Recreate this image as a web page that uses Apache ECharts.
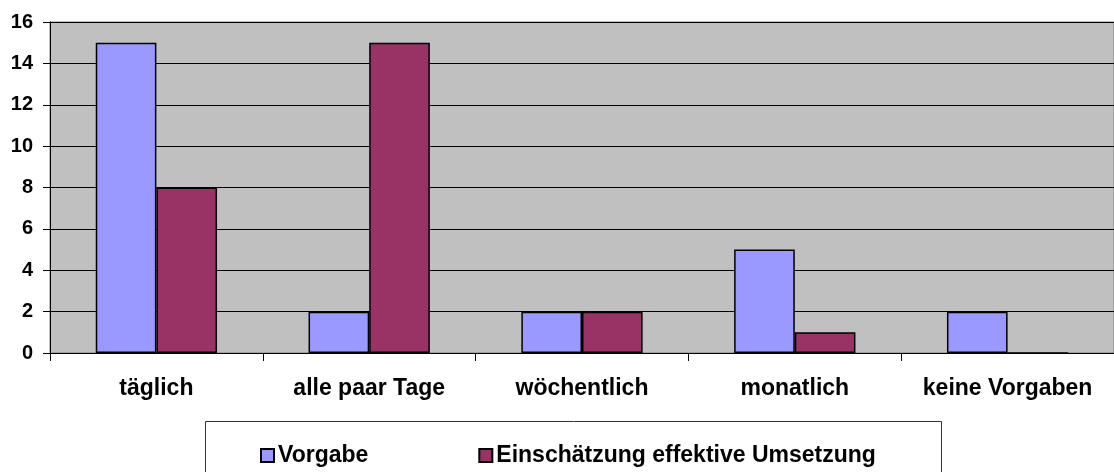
<!DOCTYPE html>
<html>
<head>
<meta charset="utf-8">
<script src="https://cdn.jsdelivr.net/npm/echarts@6/dist/echarts.min.js"></script>
<style>
  html, body { margin: 0; padding: 0; background: #fff; }
  #chart { width: 1114px; height: 472px; }
</style>
</head>
<body>
<div id="chart"></div>
<script>
const categories = ['täglich', 'alle paar Tage', 'wöchentlich', 'monatlich', 'keine Vorgaben']
const vorgabe = [15, 2, 2, 5, 2]
const umsetzung = [8, 15, 2, 1, 0]
const seriesNames = ['Vorgabe', 'Einschätzung effektive Umsetzung']
const yTicks = [0, 2, 4, 6, 8, 10, 12, 14, 16]

const font = 'Liberation Sans, Arial, sans-serif'
const chart = echarts.init(document.getElementById('chart'))

const barStyle = (color) => ({
  color: color,
  borderColor: '#000',
  borderWidth: 1.5
})

const option = {
  animation: false,
  backgroundColor: '#fff',
  grid: {
    show: true,
    left: 50,
    right: 0,
    top: 22,
    bottom: 119,
    backgroundColor: '#C0C0C0',
    borderColor: '#808080',
    borderWidth: 1
  },
  graphic: [
    {
      type: 'rect',
      left: 205,
      top: 421,
      shape: { width: 736, height: 60 },
      style: { fill: '#fff', stroke: '#333', lineWidth: 1 },
      z: 0
    }
  ],
  legend: {
    left: 255,
    top: 439,
    itemWidth: 13,
    itemHeight: 13,
    itemGap: 110,
    icon: 'rect',
    data: seriesNames,
    textStyle: { fontFamily: font, fontWeight: 'bold', fontSize: 23, color: '#000', padding: [0, 0, 0, -1] },
    z: 5
  },
  xAxis: {
    type: 'category',
    data: categories,
    axisLine: { lineStyle: { color: '#000', width: 1 } },
    axisTick: { show: true, interval: 0, length: 8, lineStyle: { color: '#000' } },
    axisLabel: {
      interval: 0,
      hideOverlap: false,
      margin: 24,
      fontFamily: font,
      fontWeight: 'bold',
      fontSize: 23,
      color: '#000'
    }
  },
  yAxis: {
    type: 'value',
    min: yTicks[0],
    max: yTicks[yTicks.length - 1],
    interval: 2,
    axisLine: { show: true, lineStyle: { color: '#000', width: 1 } },
    axisTick: { show: true, length: 7, lineStyle: { color: '#000' } },
    splitLine: { show: true, lineStyle: { color: '#000', width: 1 } },
    axisLabel: {
      margin: 17,
      fontFamily: font,
      fontWeight: 'bold',
      fontSize: 20,
      color: '#000'
    }
  },
  series: [
    {
      name: seriesNames[0],
      type: 'bar',
      data: vorgabe,
      barGap: '0%',
      barCategoryGap: '43%',
      itemStyle: barStyle('#9999FF')
    },
    {
      name: seriesNames[1],
      type: 'bar',
      data: umsetzung,
      barGap: '0%',
      barCategoryGap: '43%',
      itemStyle: barStyle('#993366')
    }
  ]
}

chart.setOption(option)
</script>
</body>
</html>
